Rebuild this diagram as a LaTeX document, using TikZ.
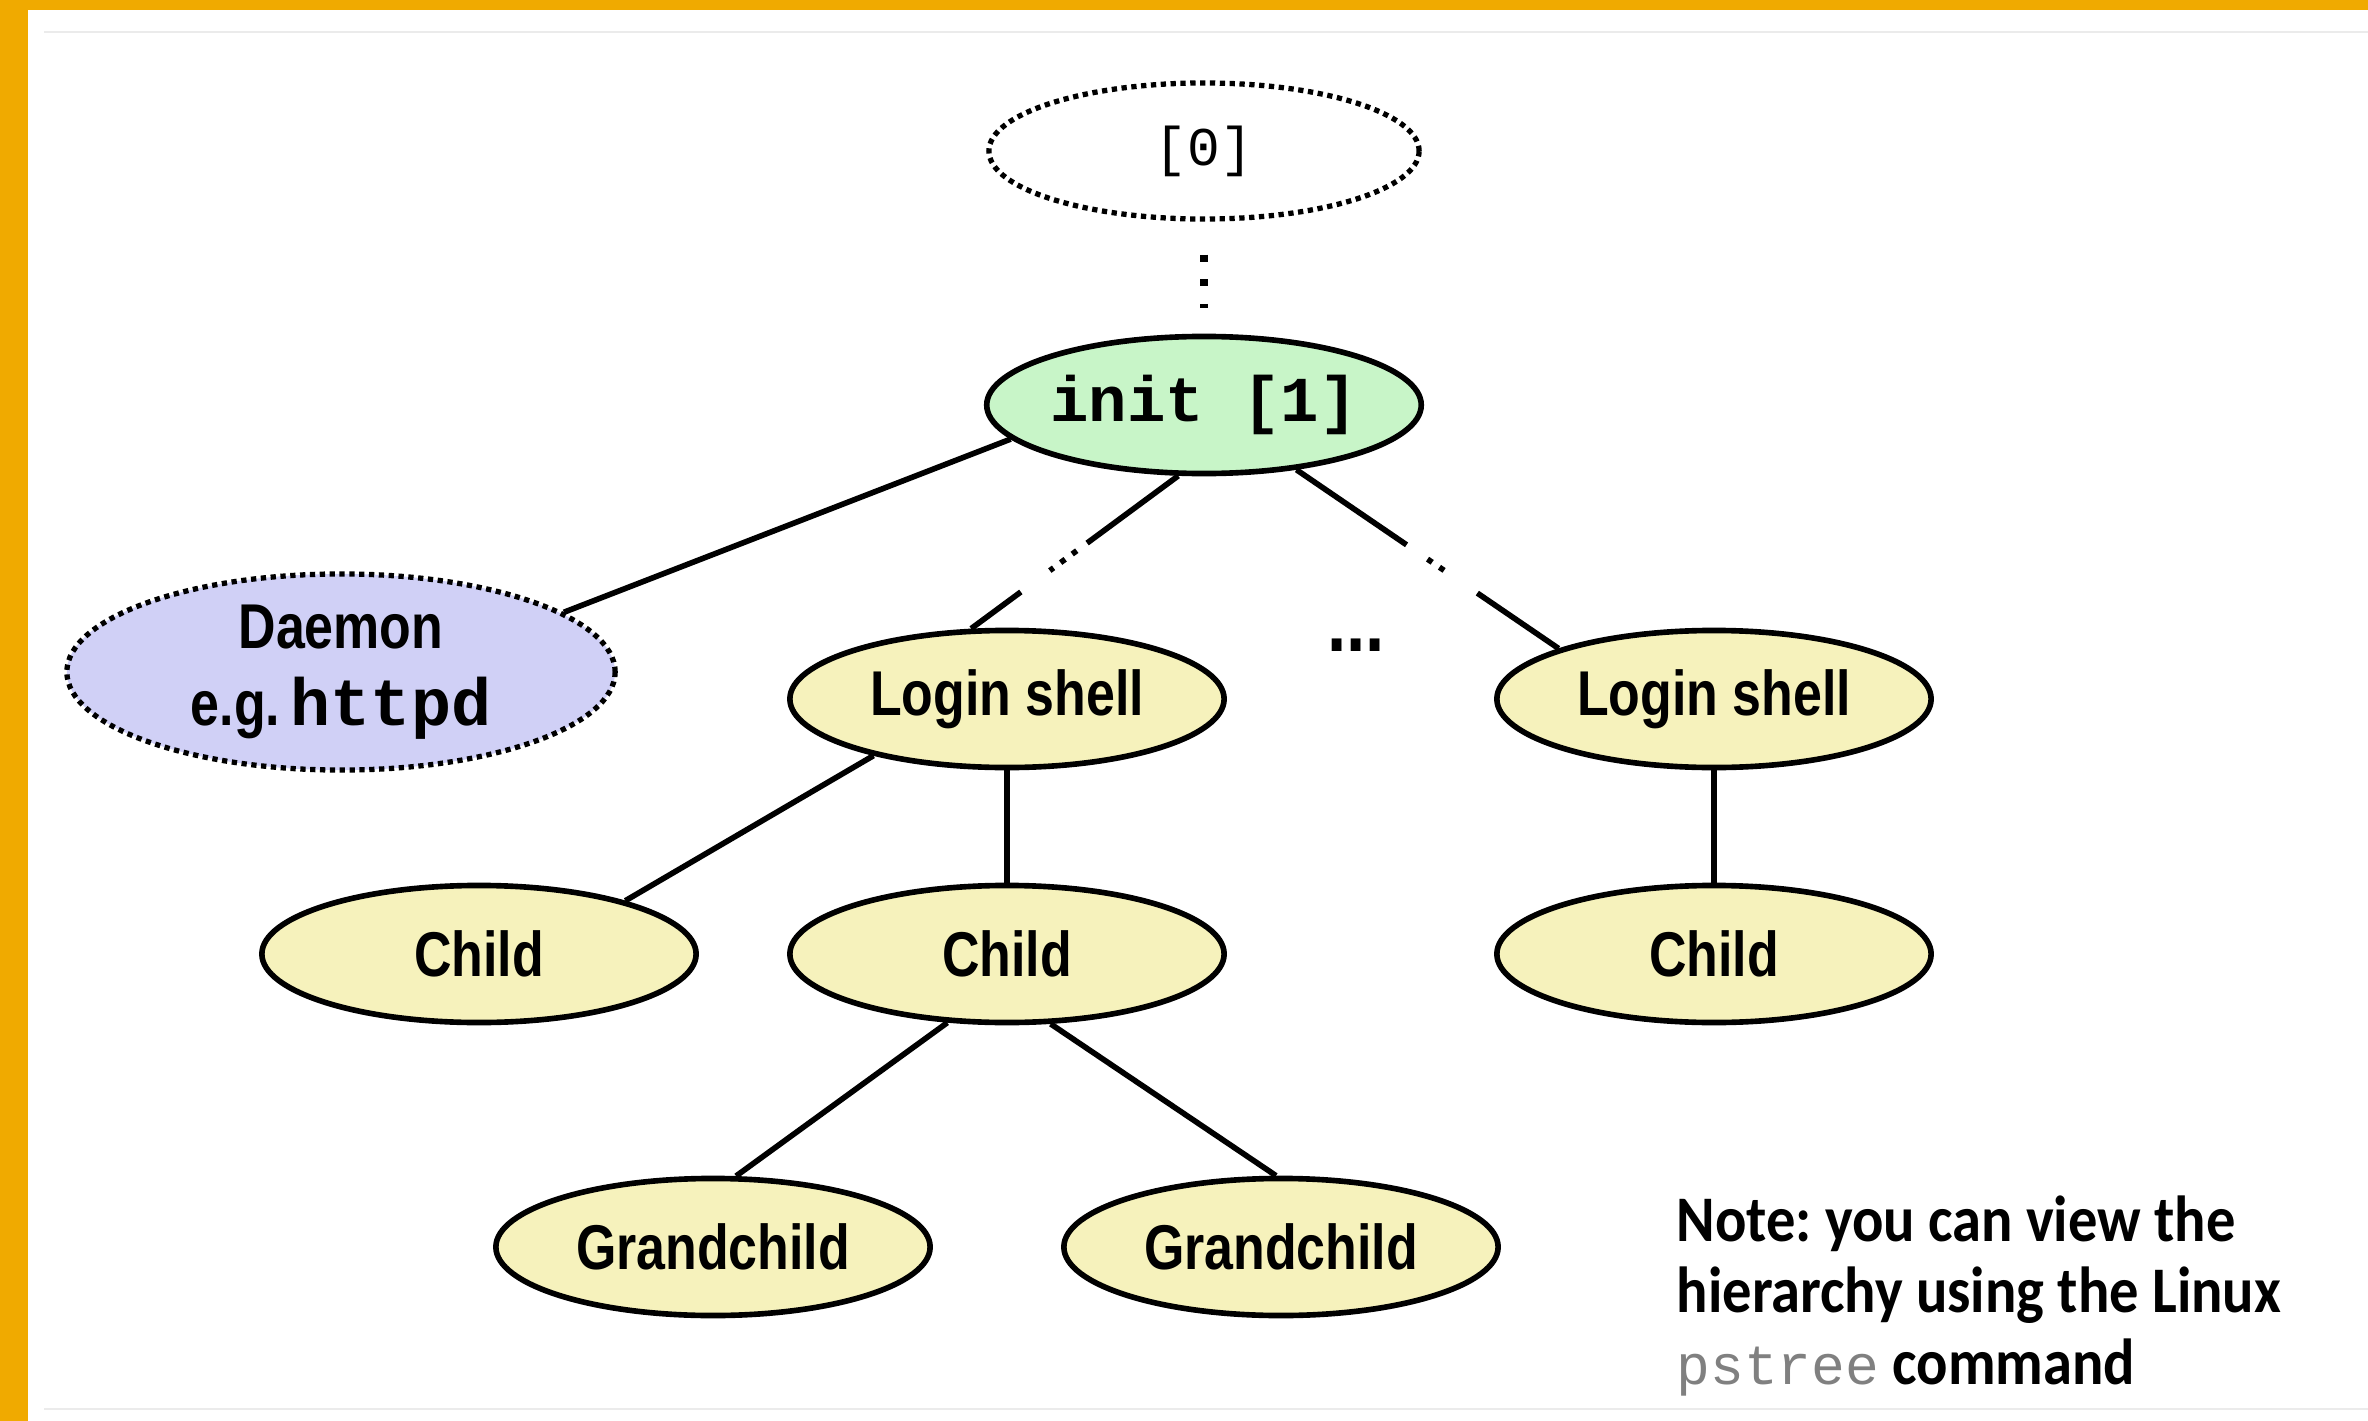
\documentclass[tikz,border=0pt]{standalone}
\usepackage{fontspec}
\usepackage{xcolor}
\usepackage{tikz}
\usetikzlibrary{shapes.geometric}
\newfontfamily\lblfont[FakeStretch=0.82]{Liberation Sans}
\newfontfamily\codefont{Liberation Mono}
\newfontfamily\notefont[FakeStretch=0.9]{Carlito}
\definecolor{slideorange}{RGB}{240,170,0}
\definecolor{procyellow}{RGB}{246,242,188}
\definecolor{initgreen}{RGB}{200,245,200}
\definecolor{daemonblue}{RGB}{208,208,246}
\tikzset{
  proc/.style={ellipse,draw,line width=1.6pt,fill=procyellow,inner sep=0pt,
    minimum width=4.34cm,minimum height=1.37cm,
    font=\lblfont\bfseries\fontsize{18}{20}\selectfont},
  dotborder/.style={line width=1.5pt,dash pattern=on 1.5pt off 1.3pt},
  link/.style={line width=1.6pt},
  gap/.style={line width=1.6pt,dash pattern=on 1.6pt off 2.5pt}
}
\frenchspacing

\begin{document}
\begin{tikzpicture}[x=0.01cm,y=-0.01cm]
\useasboundingbox (0,0) rectangle (2368,1421);
\fill[slideorange] (0,0) rectangle (2368,10);
\fill[slideorange] (0,0) rectangle (28,1421);
\draw[black!8] (44,32) -- (2368,32);
\draw[black!8] (44,1409) -- (2368,1409);

\node (0) at (1204,151) [proc,fill=none,dotborder,minimum width=4.3cm,minimum height=1.36cm,font=\codefont\fontsize{15.5}{18}\selectfont] {[0]};
\node (1) at (1204,405) [proc,fill=initgreen,font=\codefont\bfseries\fontsize{18.2}{20}\selectfont] {init [1]};
\node (2) at (341,672) [proc,fill=daemonblue,dotborder,minimum width=5.48cm,minimum height=1.96cm,align=center,font=\lblfont\bfseries\fontsize{18}{21.8}\selectfont] {Daemon\\e.g.\,{\codefont\fontsize{19}{21.8}\selectfont httpd}};
\node (3) at (1007,699) [proc] {Login shell};
\node (4) at (1714,699) [proc] {Login shell};
\node (5) at (479,954) [proc] {Child};
\node (6) at (1007,954) [proc] {Child};
\node (7) at (1714,954) [proc] {Child};
\node (8) at (713,1247) [proc] {Grandchild};
\node (9) at (1281,1247) [proc] {Grandchild};
\node (10) at (1356,645) [font=\lblfont\bfseries\fontsize{24}{26}\selectfont] {...};
\node (11) at (1676,1384) [anchor=base west,align=left,inner sep=0pt,font=\notefont\bfseries\fontsize{18.5}{20.2}\selectfont] {Note: you can view the\\hierarchy using the Linux\\{\codefont\mdseries\color{gray}\fontsize{16}{20.2}\selectfont pstree} command};

\draw[line width=2pt,dash pattern=on 2pt off 5pt,shorten <=0.33cm,shorten >=0.26cm]  (0) -- (1);
\draw[link]  (1.190) -- (2.15);
\path (1.250) -- coordinate[pos=.44] (a1) coordinate[pos=.49] (a2) coordinate[pos=.62] (a3) coordinate[pos=.76] (a4) (3.117);
\draw[link]  (1.250) -- (a1);
\draw[gap]  (a2) -- (a3);
\draw[link]  (a4) -- (3.117);
\path (1.325) -- coordinate[pos=.42] (b1) coordinate[pos=.5] (b2) coordinate[pos=.59] (b3) coordinate[pos=.69] (b4) (4.162);
\draw[link]  (1.325) -- (b1);
\draw[gap]  (b2) -- (b3);
\draw[link]  (b4) -- (4.162);
\draw[link]  (3.203) -- (5.20);
\draw[link]  (3) -- (6);
\draw[link]  (4) -- (7);
\draw[link]  (6.229) -- (8.72);
\draw[link]  (6.302) -- (9.94);
\end{tikzpicture}
\end{document}
